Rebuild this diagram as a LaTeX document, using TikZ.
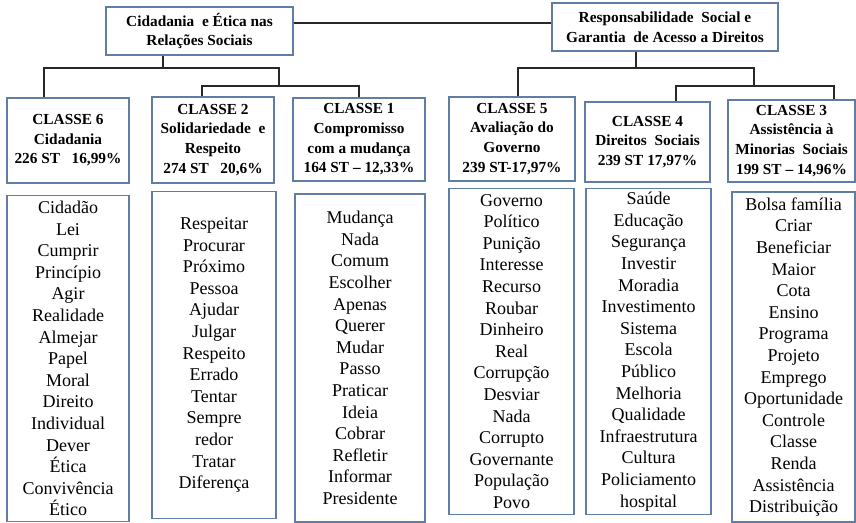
\documentclass[tikz,border=0pt]{standalone}
\usepackage{fontspec}
\setmainfont{Liberation Serif}
\definecolor{boxline}{RGB}{95,125,165}
\definecolor{linkline}{RGB}{40,40,40}
\begin{document}
\begin{tikzpicture}[x=0.75pt,y=-0.75pt,
            head/.style={rectangle, draw=boxline, line width=0.8pt, inner sep=0pt, align=center,
                font=\bfseries\fontsize{11.5}{14.8}\selectfont},
            classbox/.style={head, minimum height=63pt, text depth=2pt},
            wordbox/.style={rectangle, draw=boxline, line width=0.8pt, inner sep=0pt, align=center,
                minimum width=93.75pt, minimum height=245pt, font=\fontsize{13.5}{16.2}\selectfont},
            link/.style={draw=linkline, line width=1.1pt}
            ]
            \useasboundingbox (0,0) rectangle (856,523);

            \node[head, minimum width=140.25pt, minimum height=36pt] (tA) at (199.5,31)
                {Cidadania~ e Ética nas\\Relações Sociais};
            \node[head, minimum width=169.5pt, minimum height=36pt] (tB) at (665,27)
                {Responsabilidade~ Social e\\Garantia~ de Acesso a Direitos};

            \node[classbox, minimum width=91.5pt, minimum height=63.75pt] (c6) at (68,140.5)
                {CLASSE 6\\Cidadania\\226 ST~~ 16,99\%};
            \node[classbox, minimum width=91.5pt, minimum height=64.5pt] (c2) at (213,140)
                {CLASSE 2\\Solidariedade~ e\\Respeito\\274 ST~~ 20,6\%};
            \node[classbox, minimum width=99pt, minimum height=62.25pt] (c1) at (359,139.5)
                {CLASSE 1\\Compromisso\\com a mudança\\164 ST -- 12,33\%};
            \node[classbox, minimum width=94.5pt] (c5) at (512,139)
                {CLASSE 5\\Avaliação do\\Governo\\239 ST-17,97\%};
            \node[classbox, minimum width=93.75pt, minimum height=60pt] (c4) at (647.5,142)
                {CLASSE 4\\Direitos~ Sociais\\239 ST 17,97\%};
            \node[classbox, minimum width=95.25pt, minimum height=61.5pt] (c3) at (791.5,141)
                {CLASSE 3\\Assistência à\\Minorias~ Sociais\\199 ST -- 14,96\%};

            \node[wordbox, minimum width=91.5pt] (w6) at (68,358.5)
                {Cidadão\\Lei\\Cumprir\\Princípio\\Agir\\Realidade\\Almejar\\Papel\\Moral\\Direito\\Individual\\Dever\\Ética\\Convivência\\Ético};
            \node[wordbox, minimum width=93pt] (w2) at (214,355)
                {Respeitar\\Procurar\\Próximo\\Pessoa\\Ajudar\\Julgar\\Respeito\\Errado\\Tentar\\Sempre\\redor\\Tratar\\Diferença};
            \node[wordbox, minimum width=97.5pt, minimum height=246pt] (w1) at (360,358)
                {Mudança\\Nada\\Comum\\Escolher\\Apenas\\Querer\\Mudar\\Passo\\Praticar\\Ideia\\Cobrar\\Refletir\\Informar\\Presidente};
            \node[wordbox] (w5) at (511.5,351.5)
                {Governo\\Político\\Punição\\Interesse\\Recurso\\Roubar\\Dinheiro\\Real\\Corrupção\\Desviar\\Nada\\Corrupto\\Governante\\População\\Povo};
            \node[wordbox] (w4) at (648.5,351.5)
                {Saúde\\Educação\\Segurança\\Investir\\Moradia\\Investimento\\Sistema\\Escola\\Público\\Melhoria\\Qualidade\\Infraestrutura\\Cultura\\Policiamento\\hospital};
            \node[wordbox, minimum width=92.25pt, minimum height=247.5pt] (w3) at (793.5,357)
                {Bolsa família\\Criar\\Beneficiar\\Maior\\Cota\\Ensino\\Programa\\Projeto\\Emprego\\Oportunidade\\Controle\\Classe\\Renda\\Assistência\\Distribuição};

            \coordinate (sA) at (163,68);
            \coordinate (b6) at (44,68);
            \coordinate (bA) at (279,68);
            \coordinate (b2) at (202,86);
            \coordinate (b1) at (359,86);
            \coordinate (sB) at (636,68);
            \coordinate (b5) at (518,68);
            \coordinate (bB) at (754,68);
            \coordinate (b4) at (676,86);
            \coordinate (b3) at (834,86);
            \coordinate (top) at (0,23);

            \draw[link] (tA.east |- top) -- (tB.west |- top);

            \draw[link] (sA |- tA.south) -- (sA);
            \draw[link] (b6 |- c6.north) -- (b6) -- (bA) -- (bA |- b2);
            \draw[link] (b2 |- c2.north) -- (b2) -- (b1) -- (b1 |- c1.north);

            \draw[link] (sB |- tB.south) -- (sB);
            \draw[link] (b5 |- c5.north) -- (b5) -- (bB) -- (bB |- b4);
            \draw[link] (b4 |- c4.north) -- (b4) -- (b3) -- (b3 |- c3.north);

\end{tikzpicture}
\end{document}
